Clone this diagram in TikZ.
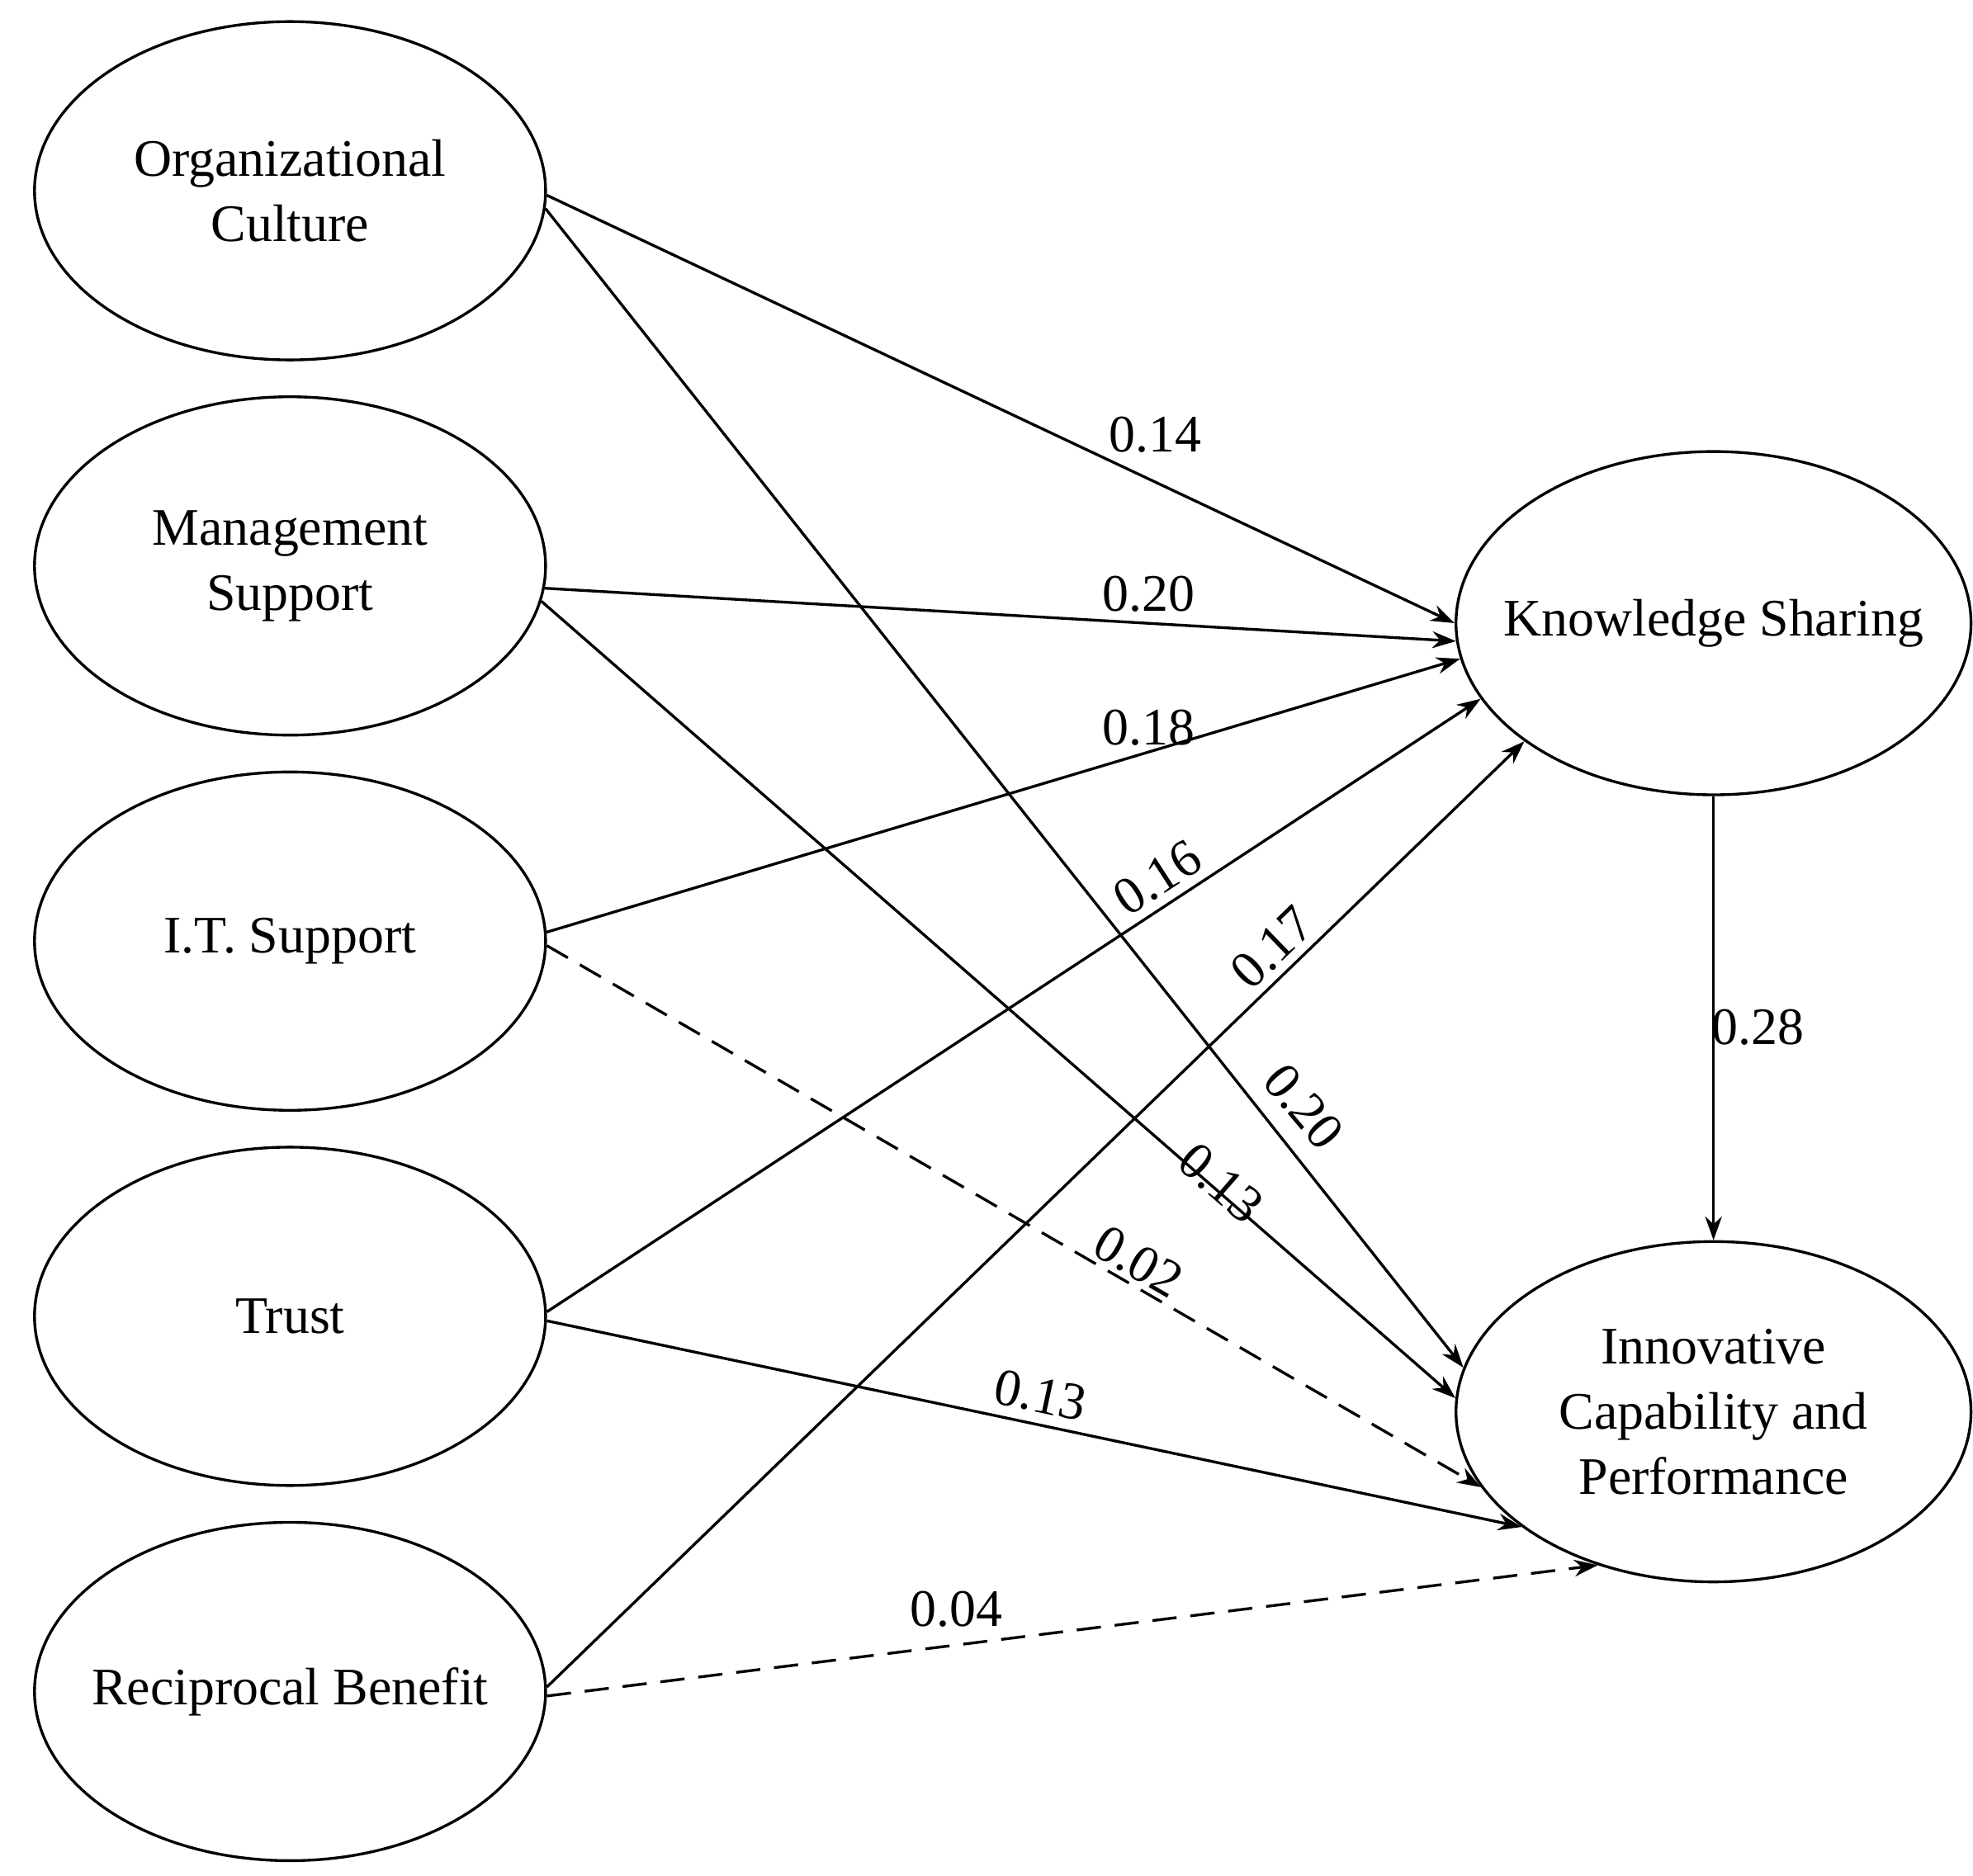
\documentclass[tikz,border=0pt]{standalone}
\usepackage{fontspec}
\setmainfont{Liberation Serif}
\usetikzlibrary{shapes.geometric,arrows.meta}
\begin{document}
\begin{tikzpicture}[x=0.012895cm,y=-0.012895cm,
  lat/.style={ellipse,draw,line width=0.8pt,minimum width=5.18cm,minimum height=3.43cm,align=center,font=\fontsize{15.2}{18.8}\selectfont,inner sep=-9pt},
  path/.style={line width=0.8pt,-{Stealth[length=2.4mm,width=1.7mm]}},
  dpath/.style={path,dash pattern=on 7pt off 4pt},
  lab/.style={font=\fontsize{15.2}{18}\selectfont,inner sep=1pt}]
\useasboundingbox (0,0) rectangle (1551,1475);
\node[lat] (oc) at (228,150) {Organizational\\Culture};
\node[lat] (ms) at (228,445) {Management\\Support};
\node[lat] (it) at (228,740) {I.T. Support};
\node[lat] (tr) at (228,1035) {Trust};
\node[lat] (rb) at (228,1330) {Reciprocal Benefit};
\node[lat,minimum width=5.22cm,minimum height=3.48cm] (ks) at (1347,490) {Knowledge Sharing};
\node[lat,minimum width=5.22cm,minimum height=3.45cm] (ic) at (1347,1110) {Innovative\\Capability and\\Performance};

\draw[path] (oc.-1) -- (ks.180);
\draw[path] (oc.-4) -- (ic.170);
\draw[path] (ms.-5) -- (ks.184);
\draw[path] (ms.-8) -- (ic.177);
\draw[path] (it.2) -- (ks.188);
\draw[dpath] (it.-1) -- (ic.198);
\draw[path] (tr.1) -- (ks.198);
\draw[path] (tr.-1) -- (ic.211);
\draw[path] (rb.1) -- (ks.212);
\draw[dpath] (rb.-1) -- (ic.233);
\draw[path] (ks.south) -- (ic.north);

\node[lab] (l1) at (908,342) {0.14};
\node[lab] (l2) at (903,467) {0.20};
\node[lab] (l3) at (903,572) {0.18};
\node[lab,rotate=33] (l4) at (910,690) {0.16};
\node[lab,rotate=44] (l5) at (1000,745) {0.17};
\node[lab,rotate=-50] (l6) at (1025,870) {0.20};
\node[lab,rotate=-41] (l7) at (960,930) {0.13};
\node[lab,rotate=-30] (l8) at (895,992) {0.02};
\node[lab,rotate=-12] (l9) at (818,1097) {0.13};
\node[lab] (l10) at (752,1265) {0.04};
\node[lab] (l11) at (1382,808) {0.28};
\end{tikzpicture}
\end{document}
